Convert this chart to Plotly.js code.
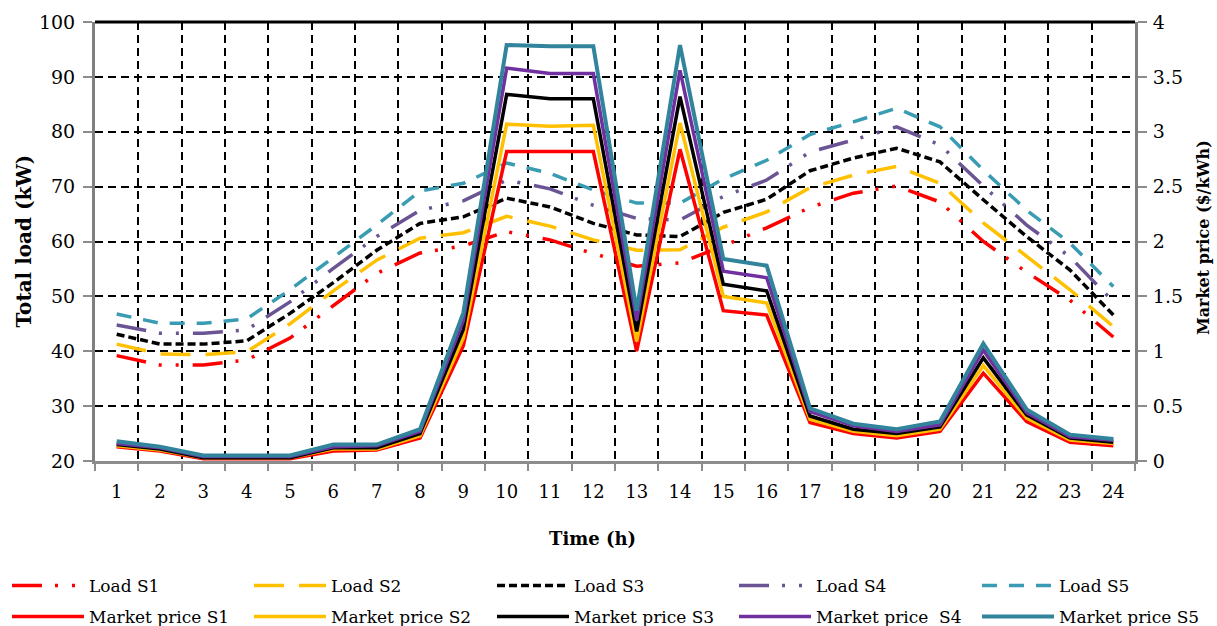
<!DOCTYPE html>
<html>
<head>
<meta charset="utf-8">
<script src="https://cdn.plot.ly/plotly-3.0.1.min.js"></script>
<style>html,body{margin:0;padding:0;background:#fff;}#chart{width:1217px;height:626px;}</style>
</head>
<body>
<div id="chart"></div>
<script>
const hours = [1,2,3,4,5,6,7,8,9,10,11,12,13,14,15,16,17,18,19,20,21,22,23,24];
const hourLabels = hours.map(String);
const boundaries = [0.5,1.5,2.5,3.5,4.5,5.5,6.5,7.5,8.5,9.5,10.5,11.5,12.5,13.5,14.5,15.5,16.5,17.5,18.5,19.5,20.5,21.5,22.5,23.5,24.5];

const loadS1 = [39.2,37.5,37.5,38.4,42.4,48.2,54.2,57.9,59.2,61.8,60.3,57.8,55.5,56.1,59.2,62.5,66.2,68.8,70.1,67.2,60.0,54.4,49.3,42.6];
const loadS2 = [41.3,39.5,39.4,39.9,45.0,51.0,56.6,60.6,61.6,64.6,62.8,60.3,58.4,58.5,62.6,65.4,69.8,72.1,73.7,70.6,63.4,57.2,51.2,44.5];
const loadS3 = [43.1,41.3,41.3,41.9,46.9,52.5,58.4,63.3,64.5,67.9,66.3,63.3,61.2,60.9,65.3,67.7,72.9,75.2,77.0,74.5,67.6,60.9,54.8,46.6];
const loadS4 = [44.8,43.3,43.3,43.9,49.0,55.1,60.9,65.7,67.4,71.2,69.6,66.6,64.2,63.9,68.2,71.2,76.3,78.5,80.9,77.6,70.1,63.0,57.2,49.0];
const loadS5 = [46.8,45.1,45.1,45.9,51.2,57.2,63.0,69.2,70.6,74.3,72.4,69.4,67.0,67.0,71.4,74.8,79.5,81.8,84.3,80.9,73.0,65.7,59.7,51.8];

const priceS1 = [0.13,0.09,0.02,0.02,0.02,0.09,0.10,0.21,1.05,2.82,2.82,2.82,1.00,2.84,1.37,1.33,0.35,0.25,0.21,0.27,0.80,0.36,0.17,0.14];
const priceS2 = [0.14,0.10,0.03,0.03,0.03,0.11,0.11,0.23,1.12,3.07,3.05,3.06,1.09,3.08,1.50,1.44,0.38,0.27,0.23,0.29,0.87,0.39,0.19,0.16];
const priceS3 = [0.15,0.11,0.03,0.03,0.03,0.12,0.12,0.25,1.20,3.34,3.30,3.30,1.18,3.32,1.61,1.55,0.41,0.29,0.25,0.31,0.94,0.42,0.21,0.17];
const priceS4 = [0.16,0.12,0.04,0.04,0.04,0.13,0.14,0.27,1.28,3.58,3.53,3.53,1.28,3.56,1.73,1.67,0.45,0.32,0.27,0.33,1.01,0.44,0.22,0.19];
const priceS5 = [0.18,0.13,0.05,0.05,0.05,0.15,0.15,0.29,1.35,3.79,3.78,3.78,1.37,3.79,1.84,1.78,0.48,0.34,0.29,0.36,1.07,0.47,0.24,0.20];

const leftTicks = [20,30,40,50,60,70,80,90,100];
const rightTicks = [0,0.5,1,1.5,2,2.5,3,3.5,4];
const rightTickLabels = ['0','0.5','1','1.5','2','2.5','3','3.5','4'];

const FONT = "'DejaVu Serif', serif";

function load(name, y, color, dash, lg) {
  return {x: hours, y: y, name: name, type: 'scatter', mode: 'lines', xaxis: 'x', yaxis: 'y',
          legend: lg, legendgroup: name, line: {color: color, width: 3.5, dash: dash}};
}
function price(name, y, color, w, lg) {
  return {x: hours, y: y, name: name, type: 'scatter', mode: 'lines', xaxis: 'x2', yaxis: 'y2',
          legend: lg, legendgroup: name, line: {color: color, width: w}};
}

const data = [
  load('Load S1', loadS1, '#FF0000', '30px,13px,3px,14px,3px,14px', 'legend'),
  load('Load S2', loadS2, '#FFC000', '30px,15px', 'legend2'),
  load('Load S3', loadS3, '#000000', '8px,4px', 'legend3'),
  load('Load S4', loadS4, '#6B5494', '30px,13px,3px,14px,3px,14px', 'legend4'),
  load('Load S5', loadS5, '#3A9CB2', '15px,12px', 'legend5'),
  price('Market price S1', priceS1, '#FF0000', 3.5, 'legend'),
  price('Market price S2', priceS2, '#FFC000', 3.5, 'legend2'),
  price('Market price S3', priceS3, '#000000', 3.5, 'legend3'),
  price('Market price  S4', priceS4, '#7030A0', 3.5, 'legend4'),
  price('Market price S5', priceS5, '#31849B', 4, 'legend5')
];

function legendAt(px) {
  return {orientation: 'v', xref: 'container', yref: 'container', x: px / 1217, xanchor: 'left',
          y: 0.0927, yanchor: 'top', itemwidth: 72, tracegroupgap: 6,
          font: {family: FONT, size: 17, color: '#000'}, traceorder: 'grouped', bgcolor: 'rgba(0,0,0,0)'};
}

const layout = {
  width: 1217, height: 626,
  margin: {l: 95, r: 82, t: 22, b: 165, autoexpand: false},
  paper_bgcolor: '#fff', plot_bgcolor: '#fff',
  font: {family: FONT, size: 19, color: '#000'},
  showlegend: true,
  legend: legendAt(7),
  legend2: legendAt(249),
  legend3: legendAt(492),
  legend4: legendAt(734),
  legend5: legendAt(977),
  xaxis: {range: [0.5, 24.5], tickmode: 'array', tickvals: boundaries, ticktext: boundaries.map(() => ''),
          showticklabels: false, ticks: 'outside', ticklen: 7, tickwidth: 2, tickcolor: '#8c8c8c',
          showgrid: true, gridcolor: '#000', gridwidth: 2, griddash: '8px,5px',
          showline: true, linecolor: '#8c8c8c', linewidth: 3, zeroline: false, fixedrange: true},
  xaxis2: {overlaying: 'x', range: [0.5, 24.5], tickmode: 'array', tickvals: hours, ticktext: hourLabels,
           ticks: '', showgrid: false, showline: false, zeroline: false, side: 'bottom', anchor: 'y',
           tickfont: {family: FONT, size: 18}, ticklabelstandoff: 18},
  yaxis: {range: [20, 100], tickmode: 'array', tickvals: leftTicks, ticks: 'outside', ticklen: 9, tickwidth: 2,
          tickcolor: '#8c8c8c', showgrid: true, gridcolor: '#000', gridwidth: 2, griddash: '8px,5px',
          showline: true, linecolor: '#7f7f7f', linewidth: 3, zeroline: false,
          tickfont: {family: FONT, size: 19}, ticklabelstandoff: 4},
  yaxis2: {overlaying: 'y', side: 'right', range: [0, 4], tickmode: 'array', tickvals: rightTicks, ticktext: rightTickLabels,
           ticks: 'outside', ticklen: 9, tickwidth: 2, tickcolor: '#8c8c8c', showgrid: false,
           showline: true, linecolor: '#7f7f7f', linewidth: 3, zeroline: false, anchor: 'x2',
           tickfont: {family: FONT, size: 19}, ticklabelstandoff: 2},
  annotations: [
    {text: '<b>Total load (kW)</b>', xref: 'paper', yref: 'paper', x: (23.5 - 95) / 1040, y: (461 - 241) / 439,
     xanchor: 'center', yanchor: 'middle', textangle: -90, showarrow: false, font: {family: FONT, size: 20}},
    {text: '<b>Market price ($/kWh)</b>', xref: 'paper', yref: 'paper', x: (1204 - 95) / 1040, y: (461 - 238) / 439,
     xanchor: 'center', yanchor: 'middle', textangle: -90, showarrow: false, font: {family: FONT, size: 16}},
    {text: '<b>Time (h)</b>', xref: 'paper', yref: 'paper', x: (592.5 - 95) / 1040, y: (461 - 538) / 439,
     xanchor: 'center', yanchor: 'middle', showarrow: false, font: {family: FONT, size: 18}}
  ],
  shapes: [{type: 'line', xref: 'paper', yref: 'paper', x0: 0, x1: 1, y0: 1, y1: 1,
            line: {color: '#000', width: 3}}]
};

Plotly.newPlot('chart', data, layout, {displayModeBar: false, staticPlot: true});
</script>
</body>
</html>
